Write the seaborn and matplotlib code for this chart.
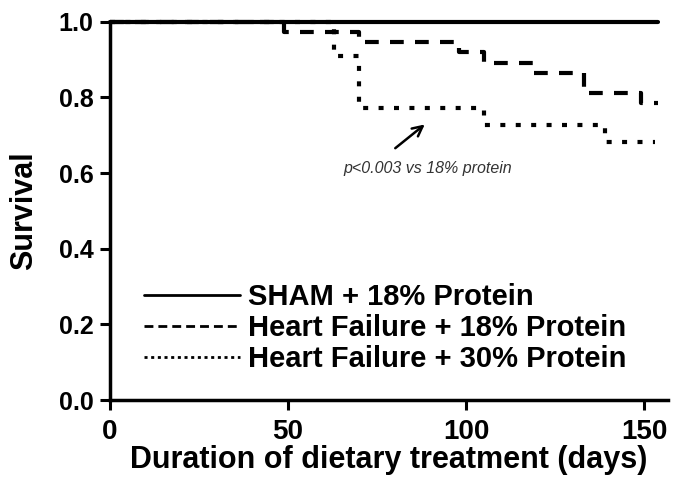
import numpy as np
import pandas as pd
import matplotlib
matplotlib.use('Agg')
import matplotlib.pyplot as plt
import matplotlib.transforms as mtransforms
import seaborn as sns

# survival curves (Kaplan-Meier steps)
sham_days = [0, 154]
sham_surv = [1.0, 1.0]

hf18_days = [0, 49, 70, 98, 105, 119, 133, 149, 154]
hf18_surv = [1.0, 0.973, 0.946, 0.919, 0.892, 0.865, 0.811, 0.784, 0.784]

hf30_days = [0, 63, 70, 105, 139, 153]
hf30_surv = [1.0, 0.909, 0.773, 0.727, 0.682, 0.682]

labels = ['SHAM + 18% Protein', 'Heart Failure + 18% Protein', 'Heart Failure + 30% Protein']
xticks = [0, 50, 100, 150]
yticks = [0.0, 0.2, 0.4, 0.6, 0.8, 1.0]

sns.set_style('ticks')
plt.rcParams['font.family'] = ['Liberation Sans', 'DejaVu Sans']
plt.rcParams['font.weight'] = 'bold'
plt.rcParams['text.color'] = 'black'
plt.rcParams['axes.labelcolor'] = 'black'

fig = plt.figure(figsize=(6.88, 4.87), dpi=100)
ax = fig.add_axes([110/688, 1 - 400/487, 558/688, 378.3/487])

sham = pd.DataFrame({'day': sham_days, 'surv': sham_surv})
hf18 = pd.DataFrame({'day': hf18_days, 'surv': hf18_surv})
hf30 = pd.DataFrame({'day': hf30_days, 'surv': hf30_surv})

sns.lineplot(data=sham, x='day', y='surv', ax=ax, color='black', lw=3,
             drawstyle='steps-post', label=labels[0], clip_on=False, zorder=5)
sns.lineplot(data=hf18, x='day', y='surv', ax=ax, color='black', lw=3,
             linestyle=(0, (3.3, 2.7)), drawstyle='steps-post', label=labels[1], clip_on=False)
sns.lineplot(data=hf30, x='day', y='surv', ax=ax, color='black', lw=3,
             linestyle=(0, (1.2, 2.5)), drawstyle='steps-post', label=labels[2], clip_on=False)

ax.set_xlim(0, 156.7)
ax.set_ylim(0, 1.0)
ax.set_xticks(xticks)
ax.set_yticks(yticks)
ax.set_yticklabels(['%.1f' % v for v in yticks], fontsize=18, fontweight='bold')
ax.set_xticklabels([str(v) for v in xticks], fontsize=20, fontweight='bold')
shift = mtransforms.ScaledTranslation(-6/100, 0, fig.dpi_scale_trans)
for lab in ax.get_xticklabels():
    lab.set_transform(lab.get_transform() + shift)

ax.tick_params(axis='both', direction='out', length=7, width=2.2, colors='black',
               labelcolor='black', pad=5)
ax.tick_params(axis='x', pad=7)
for s in ['left', 'bottom']:
    ax.spines[s].set_linewidth(2.5)
    ax.spines[s].set_color('black')
sns.despine(ax=ax)

ax.set_xlabel('Duration of dietary treatment (days)', fontsize=22, fontweight='bold',
              labelpad=0, color='black')
ax.set_ylabel('Survival', fontsize=22, fontweight='bold', labelpad=14, color='black')

ax.annotate('', xy=(89, 0.733), xytext=(79.5, 0.661),
            arrowprops=dict(arrowstyle='->', color='black', lw=1.8, mutation_scale=18))
ax.text(89.3, 0.613, 'p<0.003 vs 18% protein', fontsize=11.5, style='italic',
        fontweight='normal', color='#333333', ha='center', va='center')

leg = ax.legend(loc='upper left', bbox_to_anchor=(0.04, 0.34), frameon=False,
                fontsize=21, handlelength=3.3, handletextpad=0.25, labelspacing=0.1,
                borderaxespad=0)
for t in leg.get_texts():
    t.set_fontweight('bold')
    t.set_color('black')
leg_styles = ['-', (0, (3.2, 1.8)), (0, (1.1, 1.3))]
for h, ls in zip(leg.get_lines(), leg_styles):
    h.set_linewidth(2)
    h.set_linestyle(ls)

fig.savefig('out.png', dpi=100)
